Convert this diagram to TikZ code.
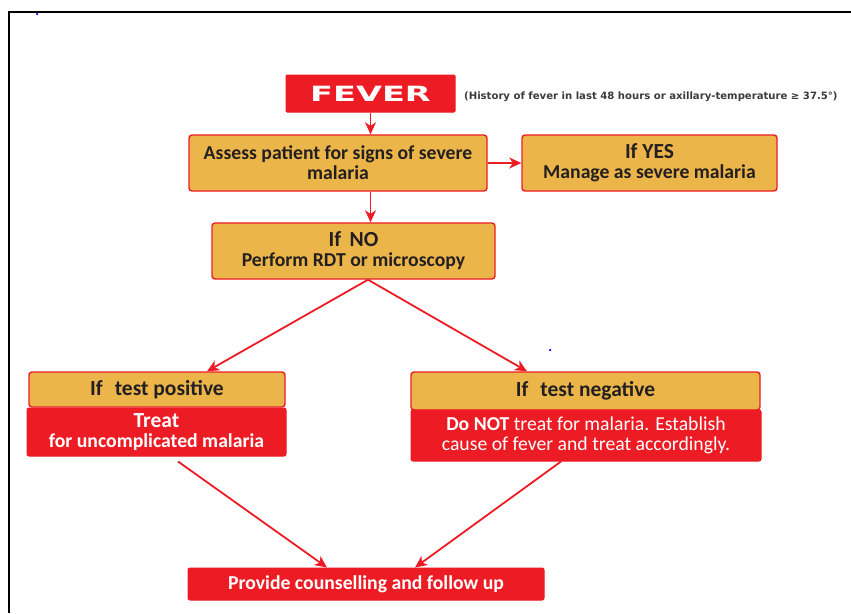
\documentclass[tikz,border=0pt]{standalone}
\usepackage{fontspec}
\setmainfont{Carlito}
\newfontfamily\dvfont{DejaVu Sans}
\usetikzlibrary{arrows.meta,calc}
\definecolor{mred}{RGB}{237,28,36}
\definecolor{morange}{RGB}{235,181,74}
\definecolor{mtext}{RGB}{35,31,32}
\definecolor{mnote}{RGB}{60,60,60}
\newcommand{\headfont}{\fontsize{21.5}{21}\selectfont\bfseries}
\begin{document}
\begin{tikzpicture}[x=1pt,y=-1pt,
  obox/.style={draw=mred, fill=morange, line width=1.4pt, rounded corners=3pt, inner sep=0pt,
    align=center, text=mtext, font=\fontsize{19.7}{20}\selectfont\bfseries},
  rbox/.style={draw=mred, fill=mred, line width=1pt, rounded corners=2pt, inner sep=0pt,
    align=center, text=white, font=\fontsize{19.7}{19.5}\selectfont\bfseries},
  conn/.style={draw=mred, line width=1.8pt, -{Stealth[length=12pt,width=11pt,inset=3.5pt]}},
  blue dot/.style={fill=blue, draw=none, circle, minimum size=2.5pt, inner sep=0pt}]
\useasboundingbox (0,0) rectangle (851,613);
\fill[white] (0,0) rectangle (851,613);
\draw[line width=2pt] (9,613) -- (9,12) -- (851,12);
\node[blue dot] (d1) at (37,14) {};
\node[blue dot] (d2) at (550,350) {};

\node[rbox, minimum width=169pt, minimum height=37pt, rounded corners=1pt] (fever) at (370.5,93.5)
  {\scalebox{1.6}[1]{\dvfont\bfseries\fontsize{21}{21}\selectfont FEVER}};
\node[anchor=west, inner sep=0pt, text=mnote, font=\dvfont\bfseries\fontsize{10.1}{12}\selectfont] (note) at (464,97)
  {(History of fever in last 48 hours or axillary-temperature ≥ 37.5°)};

\node[obox, minimum width=298pt, minimum height=56pt] (assess) at (338,163)
  {Assess patient for signs of severe\\malaria};
\node[obox, minimum width=255pt, minimum height=56pt] (yes) at (649.5,163)
  {{\headfont If YES}\\Manage as severe malaria};
\node[obox, minimum width=283pt, minimum height=56pt] (ifno) at (353.5,251)
  {{\headfont If\, NO}\\Perform RDT or microscopy};

\node[obox, minimum width=256pt, minimum height=35pt] (poshead) at (157,389.5)
  {\headfont If\,\, test positive};
\node[rbox, minimum width=259pt, minimum height=48pt] (posbody) at (156.5,432)
  {{\headfont Treat}\\for uncomplicated malaria};
\node[obox, minimum width=349pt, minimum height=38pt] (neghead) at (585.5,391)
  {\headfont If\,\, test negative};
\node[rbox, minimum width=350pt, minimum height=51pt] (negbody) at (586,435.5)
  {Do NOT {\mdseries treat for malaria. Establish}\\{\mdseries cause of fever and treat accordingly.}};
\node[rbox, minimum width=356pt, minimum height=32pt] (provide) at (366,584)
  {Provide counselling and follow up};

\draw[conn] (fever.south) -- (fever.south |- assess.north);
\draw[conn] (assess.east) -- (yes.west);
\draw[conn] (fever.south |- assess.south) -- (fever.south |- ifno.north);
\draw[conn] ([xshift=14.5pt]ifno.south) -- ([xshift=50pt]poshead.north);
\draw[conn] ([xshift=14.5pt]ifno.south) -- ([xshift=-58.5pt]neghead.north);
\draw[conn] ([xshift=21.5pt,yshift=-5pt]posbody.south) -- ([xshift=-39pt]provide.north);
\draw[conn] ([xshift=-25pt]negbody.south) -- ([xshift=49pt]provide.north);
\end{tikzpicture}
\end{document}
